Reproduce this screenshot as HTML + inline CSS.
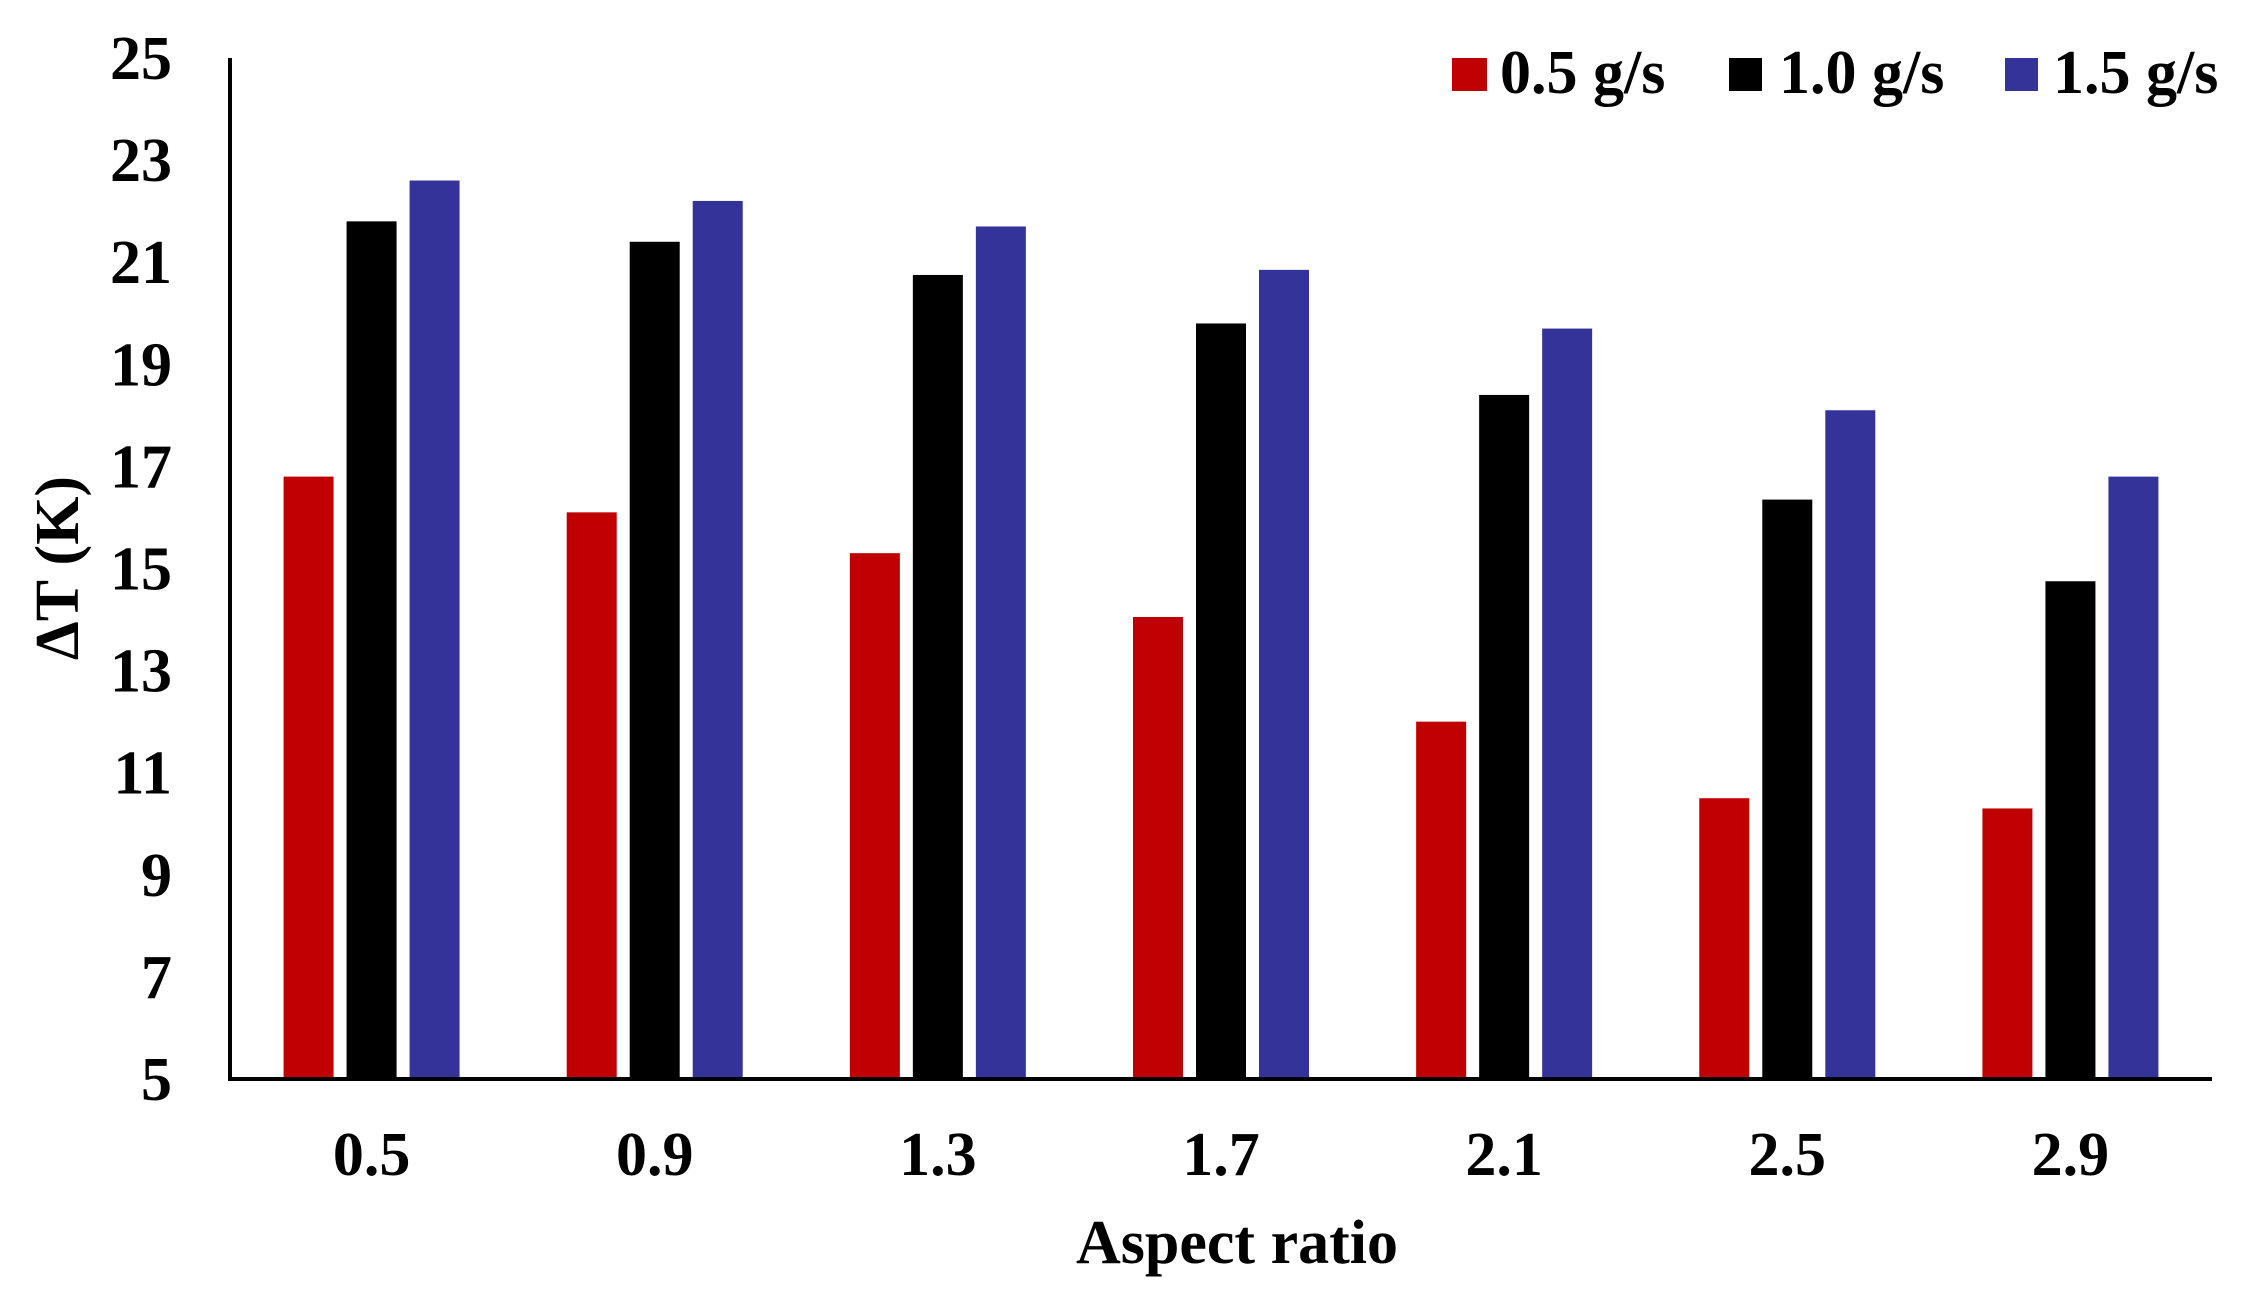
<!DOCTYPE html>
<html><head><meta charset="utf-8"><style>
html,body{margin:0;padding:0;background:#fff;}
svg{display:block;}
text{font-family:"Liberation Serif",serif;font-weight:bold;fill:#000;}
</style></head><body>
<svg id="chart" width="2249" height="1301" viewBox="0 0 2249 1301" xmlns="http://www.w3.org/2000/svg">
<g id="bars"></g>
<line x1="230" y1="58" x2="230" y2="1079" stroke="#000" stroke-width="4"/>
<line x1="228" y1="1079" x2="2212" y2="1079" stroke="#000" stroke-width="4"/>
<g id="yticks"></g>
<g id="xticks"></g>
<text x="1237" y="1263" font-size="62" text-anchor="middle">Aspect ratio</text>
<text transform="translate(78,568) rotate(-90)" font-size="62" text-anchor="middle">ΔT (K)</text>
<g>
<rect x="1452" y="58" width="35" height="33" fill="#C00000"/>
<text x="1500" y="93" font-size="62">0.5 g/s</text>
<rect x="1729" y="58" width="33" height="33" fill="#000"/>
<text x="1779" y="93" font-size="62">1.0 g/s</text>
<rect x="2005" y="58" width="33" height="33" fill="#333399"/>
<text x="2053" y="93" font-size="62">1.5 g/s</text>
</g>
</svg>
<script>
const categories = ["0.5","0.9","1.3","1.7","2.1","2.5","2.9"];
const series05 = [16.8,16.1,15.3,14.05,12.0,10.5,10.3];
const series10 = [21.8,21.4,20.75,19.8,18.4,16.35,14.75];
const series15 = [22.6,22.2,21.7,20.85,19.7,18.1,16.8];
const yTicks = [5,7,9,11,13,15,17,19,21,23,25];

const NS = "http://www.w3.org/2000/svg";
const plotL = 230, plotR = 2212, plotT = 58, plotB = 1079, yMin = 5, yMax = 25;
const yScale = v => plotB - (v - yMin) / (yMax - yMin) * (plotB - plotT);
const step = (plotR - plotL) / categories.length;
const xCenter = i => plotL + step * (i + 0.5);
const barW = 50, barStep = 63;
const seriesList = [[series05,"#C00000","0-5"],[series10,"#000000","1-0"],[series15,"#333399","1-5"]];

const barsG = document.getElementById("bars");
seriesList.forEach(([vals,color,key], s) => {
  vals.forEach((v, i) => {
    const r = document.createElementNS(NS, "rect");
    const cx = xCenter(i) + (s - 1) * barStep;
    r.setAttribute("x", cx - barW / 2);
    r.setAttribute("y", yScale(v));
    r.setAttribute("width", barW);
    r.setAttribute("height", plotB - yScale(v));
    r.setAttribute("fill", color);
    
    
    barsG.appendChild(r);
  });
});

const yG = document.getElementById("yticks");
yTicks.forEach(t => {
  const tx = document.createElementNS(NS, "text");
  tx.setAttribute("x", 172);
  tx.setAttribute("y", yScale(t) + 21);
  tx.setAttribute("font-size", "62");
  tx.setAttribute("text-anchor", "end");
  tx.textContent = t;
  
  
  yG.appendChild(tx);
});

const xG = document.getElementById("xticks");
categories.forEach((c, i) => {
  const tx = document.createElementNS(NS, "text");
  tx.setAttribute("x", xCenter(i));
  tx.setAttribute("y", 1175);
  tx.setAttribute("font-size", "62");
  tx.setAttribute("text-anchor", "middle");
  tx.textContent = c;
  
  
  xG.appendChild(tx);
});
</script>
</body></html>
